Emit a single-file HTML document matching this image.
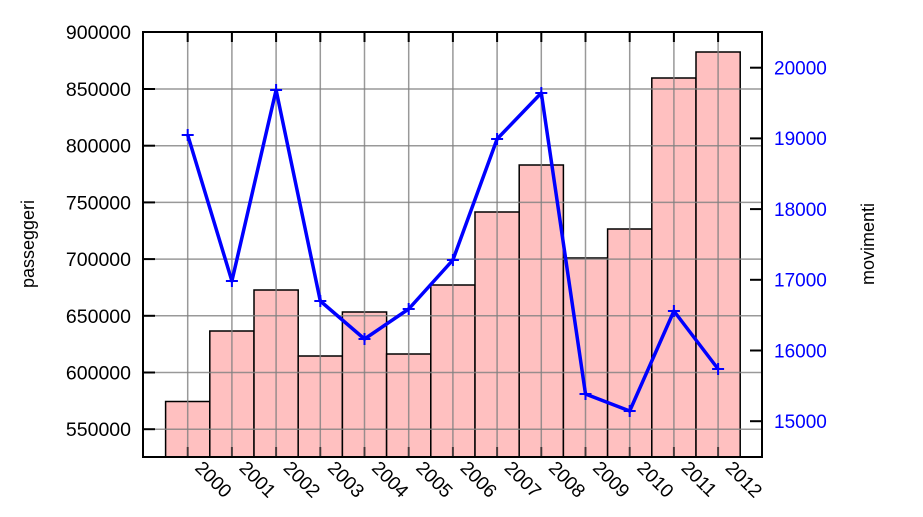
<!DOCTYPE html>
<html><head><meta charset="utf-8"><style>
html,body{margin:0;padding:0;background:#fff;}
text{font-family:"Liberation Sans",sans-serif;}
</style></head><body>
<svg width="923" height="512" viewBox="0 0 923 512" xmlns="http://www.w3.org/2000/svg">
<rect width="923" height="512" fill="#fff"/>
<g id="bars" fill="#ffc0c0" stroke="#000" stroke-width="1.5">
<rect x="165.6" y="401.5" width="44.2" height="55.5"/>
<rect x="209.8" y="331" width="44.2" height="126"/>
<rect x="254" y="290" width="44.2" height="167"/>
<rect x="298.2" y="356" width="44.2" height="101"/>
<rect x="342.4" y="312" width="44.2" height="145"/>
<rect x="386.6" y="354" width="44.2" height="103"/>
<rect x="430.8" y="285" width="44.2" height="172"/>
<rect x="475" y="212" width="44.2" height="245"/>
<rect x="519.2" y="165" width="44.2" height="292"/>
<rect x="563.4" y="258" width="44.2" height="199"/>
<rect x="607.6" y="229" width="44.2" height="228"/>
<rect x="651.8" y="78" width="44.2" height="379"/>
<rect x="696" y="52" width="44.2" height="405"/>
</g>
<g stroke="#808080" stroke-opacity="0.8" stroke-width="1.5">
<line x1="143" y1="89" x2="762" y2="89"/>
<line x1="143" y1="145.7" x2="762" y2="145.7"/>
<line x1="143" y1="202.4" x2="762" y2="202.4"/>
<line x1="143" y1="259.1" x2="762" y2="259.1"/>
<line x1="143" y1="315.8" x2="762" y2="315.8"/>
<line x1="143" y1="372.5" x2="762" y2="372.5"/>
<line x1="143" y1="429.2" x2="762" y2="429.2"/>
<line x1="187.7" y1="32" x2="187.7" y2="457"/>
<line x1="231.9" y1="32" x2="231.9" y2="457"/>
<line x1="276.1" y1="32" x2="276.1" y2="457"/>
<line x1="320.3" y1="32" x2="320.3" y2="457"/>
<line x1="364.5" y1="32" x2="364.5" y2="457"/>
<line x1="408.7" y1="32" x2="408.7" y2="457"/>
<line x1="452.9" y1="32" x2="452.9" y2="457"/>
<line x1="497.1" y1="32" x2="497.1" y2="457"/>
<line x1="541.3" y1="32" x2="541.3" y2="457"/>
<line x1="585.5" y1="32" x2="585.5" y2="457"/>
<line x1="629.7" y1="32" x2="629.7" y2="457"/>
<line x1="673.9" y1="32" x2="673.9" y2="457"/>
<line x1="718.1" y1="32" x2="718.1" y2="457"/>
</g>
<g stroke="#000" stroke-width="2">
<line x1="143" y1="89" x2="155" y2="89"/><line x1="143" y1="145.7" x2="155" y2="145.7"/><line x1="143" y1="202.4" x2="155" y2="202.4"/><line x1="143" y1="259.1" x2="155" y2="259.1"/><line x1="143" y1="315.8" x2="155" y2="315.8"/><line x1="143" y1="372.5" x2="155" y2="372.5"/><line x1="143" y1="429.2" x2="155" y2="429.2"/>
<line x1="750" y1="67.7" x2="762" y2="67.7"/><line x1="750" y1="138.4" x2="762" y2="138.4"/><line x1="750" y1="209.1" x2="762" y2="209.1"/><line x1="750" y1="279.8" x2="762" y2="279.8"/><line x1="750" y1="350.5" x2="762" y2="350.5"/><line x1="750" y1="421.2" x2="762" y2="421.2"/>
</g>
<g stroke="#000" stroke-width="2">
<path d="M187.7 32v10M231.9 32v10M276.1 32v10M320.3 32v10M364.5 32v10M408.7 32v10M452.9 32v10M497.1 32v10M541.3 32v10M585.5 32v10M629.7 32v10M673.9 32v10M718.1 32v10"/>
<path d="M187.7 457v-10M231.9 457v-10M276.1 457v-10M320.3 457v-10M364.5 457v-10M408.7 457v-10M452.9 457v-10M497.1 457v-10M541.3 457v-10M585.5 457v-10M629.7 457v-10M673.9 457v-10M718.1 457v-10" stroke-opacity="0.6"/>
</g>
<rect x="143" y="32" width="619" height="425" fill="none" stroke="#000" stroke-width="2"/>
<polyline fill="none" stroke="#0000ff" stroke-width="3.5" stroke-linejoin="round" points="187.7,135 231.9,281 276.1,90 320.3,301 364.5,339 408.7,309 452.9,260 497.1,139 541.3,93 585.5,394 629.7,411 673.9,311 718.1,369"/>
<g stroke="#0000ff" stroke-width="2">
<path d="M181.7 135h12M187.7 129v12 M225.9 281h12M231.9 275v12 M270.1 90h12M276.1 84v12 M314.3 301h12M320.3 295v12 M358.5 339h12M364.5 333v12 M402.7 309h12M408.7 303v12 M446.9 260h12M452.9 254v12 M491.1 139h12M497.1 133v12 M535.3 93h12M541.3 87v12 M579.5 394h12M585.5 388v12 M623.7 411h12M629.7 405v12 M667.9 311h12M673.9 305v12 M712.1 369h12M718.1 363v12"/>
</g>
<g font-size="19.5" fill="#000" text-anchor="end">
<text x="131" y="39">900000</text><text x="131" y="96">850000</text><text x="131" y="152.7">800000</text><text x="131" y="209.4">750000</text><text x="131" y="266.1">700000</text><text x="131" y="322.8">650000</text><text x="131" y="379.5">600000</text><text x="131" y="436.2">550000</text>
</g>
<g font-size="19" fill="#0000ff">
<text x="774" y="74.5">20000</text><text x="774" y="145.2">19000</text><text x="774" y="215.9">18000</text><text x="774" y="286.6">17000</text><text x="774" y="357.3">16000</text><text x="774" y="428">15000</text>
</g>
<g font-size="19" fill="#000">
<text transform="translate(194,469) rotate(45)">2000</text>
<text transform="translate(238.2,469) rotate(45)">2001</text>
<text transform="translate(282.4,469) rotate(45)">2002</text>
<text transform="translate(326.6,469) rotate(45)">2003</text>
<text transform="translate(370.8,469) rotate(45)">2004</text>
<text transform="translate(415,469) rotate(45)">2005</text>
<text transform="translate(459.2,469) rotate(45)">2006</text>
<text transform="translate(503.4,469) rotate(45)">2007</text>
<text transform="translate(547.6,469) rotate(45)">2008</text>
<text transform="translate(591.8,469) rotate(45)">2009</text>
<text transform="translate(636,469) rotate(45)">2010</text>
<text transform="translate(680.2,469) rotate(45)">2011</text>
<text transform="translate(724.4,469) rotate(45)">2012</text>
</g>
<text font-size="18" text-anchor="middle" transform="translate(34,244) rotate(-90)">passeggeri</text>
<text font-size="18" text-anchor="middle" transform="translate(874,244) rotate(-90)">movimenti</text>
</svg>
</body></html>
